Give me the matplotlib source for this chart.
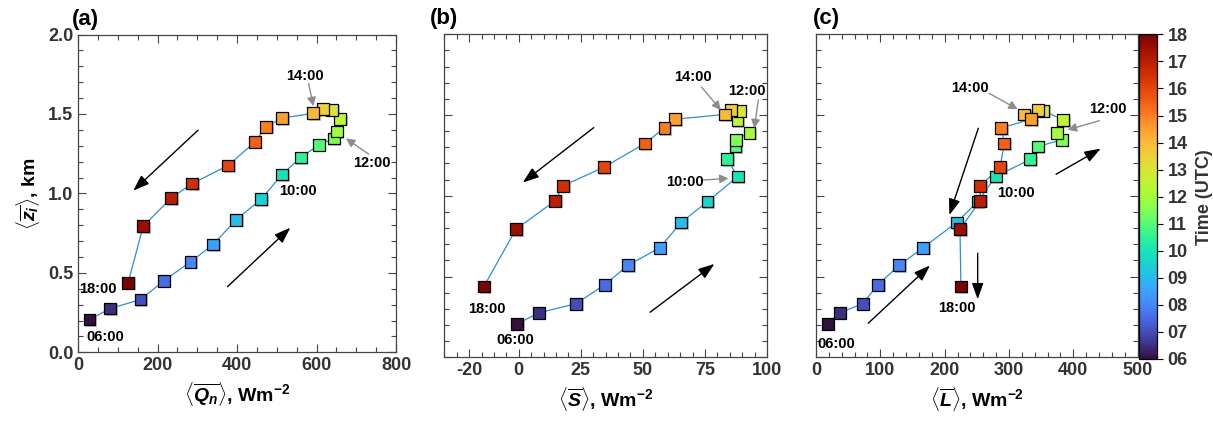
import matplotlib
matplotlib.use("Agg")
import matplotlib.pyplot as plt
import matplotlib.patheffects as pe
from matplotlib.ticker import MultipleLocator, FixedLocator
from matplotlib.colors import Normalize
from matplotlib.cm import ScalarMappable

plt.rcParams['font.family'] = ['Liberation Sans', 'DejaVu Sans']
plt.rcParams['font.weight'] = 'bold'
plt.rcParams['mathtext.fontset'] = 'custom'
plt.rcParams['mathtext.it'] = 'Liberation Sans:italic:bold'
plt.rcParams['mathtext.rm'] = 'Liberation Sans:bold'
plt.rcParams['mathtext.bf'] = 'Liberation Sans:bold'
plt.rcParams['mathtext.default'] = 'rm'

# ---- data (half-hourly, 06:00 - 18:00 UTC) ----
time_utc = [6.0, 6.5, 7.0, 7.5, 8.0, 8.5, 9.0, 9.5, 10.0, 10.5, 11.0, 11.5, 12.0,
            12.5, 13.0, 13.5, 14.0, 14.5, 15.0, 15.5, 16.0, 16.5, 17.0, 17.5, 18.0]
zi_km = [0.207, 0.275, 0.332, 0.450, 0.570, 0.678, 0.835, 0.964, 1.119, 1.226,
         1.305, 1.346, 1.390, 1.469, 1.527, 1.530, 1.504, 1.474, 1.420, 1.324,
         1.176, 1.062, 0.970, 0.793, 0.438]
Qn = [29, 81, 157, 216, 283, 340, 398, 461, 513, 560, 606, 643, 651, 660, 639,
      616, 592, 513, 473, 445, 378, 287, 234, 164, 126]
S = [-0.7, 8.0, 23.1, 34.7, 44.0, 56.8, 65.4, 76.0, 88.2, 83.9, 87.3, 87.4, 93.0,
     88.1, 89.1, 85.5, 83.1, 63.0, 58.7, 50.8, 34.2, 17.8, 14.7, -1.1, -14.1]
L = [18.1, 36.8, 72.5, 96.4, 129.5, 166.3, 218.7, 251.3, 279.3, 333.2, 344.6,
     381.9, 374.1, 384.5, 353.4, 344.6, 323.8, 334.2, 288.1, 292.7, 286.0, 255.4,
     255.4, 223.8, 225.3]
cbar_ticks = [6, 7, 8, 9, 10, 11, 12, 13, 14, 15, 16, 17, 18]
cbar_labels = ['06', '07', '08', '09', '10', '11', '12', '13', '14', '15', '16', '17', '18']

cmap = plt.get_cmap('turbo')
norm = Normalize(6, 18)
line_col = '#2a8fd6'
tick_col = '#333333'
TICK_FS = 13

fig = plt.figure(figsize=(12.13, 4.26), dpi=100)
ax_a = fig.add_axes([0.0643, 0.1730, 0.2622, 0.7460])
ax_b = fig.add_axes([0.3663, 0.1613, 0.2660, 0.7582])
ax_c = fig.add_axes([0.6727, 0.1613, 0.2652, 0.7582])
cax = fig.add_axes([0.9390, 0.1573, 0.0150, 0.7620])

shadow = [pe.SimplePatchShadow(offset=(1.2, -1.2), shadow_rgbFace='#999999', alpha=0.6), pe.Normal()]


def draw(ax, xs):
    ax.plot(xs, zi_km, color=line_col, lw=0.9, zorder=2)
    ax.scatter(xs, zi_km, c=time_utc, cmap=cmap, norm=norm, marker='s', s=72,
               edgecolors='black', linewidths=0.9, zorder=3, path_effects=shadow)
    ax.set_ylim(0, 2.0)
    ax.yaxis.set_major_locator(MultipleLocator(0.5))
    ax.yaxis.set_minor_locator(MultipleLocator(0.1))
    ax.tick_params(which='both', direction='in', top=True, right=True,
                   colors='#444444', labelcolor=tick_col, labelsize=TICK_FS)
    ax.tick_params(which='major', length=6, width=0.8)
    ax.tick_params(which='minor', length=3.5, width=0.8)
    for sp in ax.spines.values():
        sp.set_color('#444444')
        sp.set_linewidth(0.9)


def bold_ticks(ax):
    for t in ax.get_xticklabels() + ax.get_yticklabels():
        t.set_fontweight('bold')


def lab(ax, x, y, s):
    ax.text(x, y, s, ha='center', va='center', fontsize=10.5, fontweight='bold', zorder=5)


def garrow(ax, tail, head):
    ax.annotate('', xy=head, xytext=tail,
                arrowprops=dict(arrowstyle='-|>', color='#8c8c8c', lw=1.0,
                                mutation_scale=13, shrinkA=0, shrinkB=0), zorder=4)


def barrow(ax, tail, head):
    ax.annotate('', xy=head, xytext=tail,
                arrowprops=dict(arrowstyle='-|>,head_length=0.7,head_width=0.25',
                                color='black', lw=1.0,
                                mutation_scale=14, shrinkA=0, shrinkB=0), zorder=4)


# ---- panel (a) ----
draw(ax_a, Qn)
ax_a.set_xlim(0, 800)
ax_a.xaxis.set_major_locator(MultipleLocator(200))
ax_a.xaxis.set_minor_locator(MultipleLocator(50))
ax_a.set_yticks([0, 0.5, 1.0, 1.5, 2.0])
ax_a.set_yticklabels(['0.0', '0.5', '1.0', '1.5', '2.0'])
bold_ticks(ax_a)
ax_a.set_xlabel(r'$\langle\overline{\mathit{Q_n}}\rangle$, Wm$^{-2}$', fontsize=14,
                fontweight='bold', labelpad=4)
ax_a.set_ylabel(r'$\langle\overline{\mathit{z_i}}\rangle$, km', fontsize=14,
                fontweight='bold', labelpad=4)
lab(ax_a, 571, 1.738, '14:00')
lab(ax_a, 738, 1.189, '12:00')
lab(ax_a, 553, 1.015, '10:00')
lab(ax_a, 50, 0.396, '18:00')
lab(ax_a, 68, 0.099, '06:00')
garrow(ax_a, (580, 1.692), (592, 1.549))
garrow(ax_a, (731, 1.247), (674, 1.346))
barrow(ax_a, (302, 1.398), (139, 1.017))
barrow(ax_a, (376, 0.413), (534, 0.784))
ax_a.text(-0.02, 1.015, '(a)', transform=ax_a.transAxes, fontsize=16,
          fontweight='bold', ha='left', va='bottom')

# ---- panel (b) ----
draw(ax_b, S)
ax_b.set_xlim(-30, 100)
ax_b.xaxis.set_major_locator(FixedLocator([-20, 0, 25, 50, 75, 100]))
ax_b.xaxis.set_minor_locator(MultipleLocator(5))
ax_b.set_yticklabels([])
ax_b.set_xticks([-20, 0, 25, 50, 75, 100])
ax_b.set_xticklabels(['-20', '0', '25', '50', '75', '100'])
bold_ticks(ax_b)
ax_b.set_xlabel(r'$\langle\overline{\mathit{S}}\rangle$, Wm$^{-2}$', fontsize=14,
                fontweight='bold', labelpad=4)
lab(ax_b, 70.0, 1.734, '14:00')
lab(ax_b, 91.8, 1.651, '12:00')
lab(ax_b, 67.0, 1.088, '10:00')
lab(ax_b, -12.7, 0.299, '18:00')
lab(ax_b, -1.3, 0.107, '06:00')
garrow(ax_b, (73.7, 1.672), (81.4, 1.531))
garrow(ax_b, (96.5, 1.593), (94.9, 1.418))
garrow(ax_b, (74.4, 1.098), (84.5, 1.108))
barrow(ax_b, (30.2, 1.422), (1.6, 1.082))
barrow(ax_b, (52.9, 0.279), (78.8, 0.578))
ax_b.text(-0.045, 1.015, '(b)', transform=ax_b.transAxes, fontsize=16,
          fontweight='bold', ha='left', va='bottom')

# ---- panel (c) ----
draw(ax_c, L)
ax_c.set_xlim(0, 500)
ax_c.xaxis.set_major_locator(MultipleLocator(100))
ax_c.xaxis.set_minor_locator(MultipleLocator(20))
ax_c.set_yticklabels([])
bold_ticks(ax_c)
ax_c.set_xlabel(r'$\langle\overline{\mathit{L}}\rangle$, Wm$^{-2}$', fontsize=14,
                fontweight='bold', labelpad=4)
lab(ax_c, 239.4, 1.666, '14:00')
lab(ax_c, 453.4, 1.538, '12:00')
lab(ax_c, 310.9, 1.020, '10:00')
lab(ax_c, 219.7, 0.303, '18:00')
lab(ax_c, 31.1, 0.080, '06:00')
garrow(ax_c, (268.9, 1.635), (313.5, 1.536))
garrow(ax_c, (440.4, 1.465), (391.2, 1.408))
barrow(ax_c, (252.3, 1.418), (207.3, 0.881))
barrow(ax_c, (81.3, 0.211), (177.2, 0.568))
barrow(ax_c, (251.3, 0.644), (251.3, 0.359))
barrow(ax_c, (373.1, 1.133), (442.5, 1.292))
ax_c.text(-0.01, 1.015, '(c)', transform=ax_c.transAxes, fontsize=16,
          fontweight='bold', ha='left', va='bottom')

# ---- colorbar ----
sm = ScalarMappable(norm=norm, cmap=cmap)
cb = fig.colorbar(sm, cax=cax, ticks=cbar_ticks)
cb.ax.set_yticklabels(cbar_labels)
cb.ax.tick_params(labelsize=TICK_FS, labelcolor=tick_col, length=4, width=0.8, direction='out')
for t in cb.ax.get_yticklabels():
    t.set_fontweight('bold')
cb.outline.set_linewidth(0.9)
cb.set_label('Time (UTC)', fontsize=13, fontweight='bold', color=tick_col, labelpad=6)

fig.savefig('out.png', dpi=100)
